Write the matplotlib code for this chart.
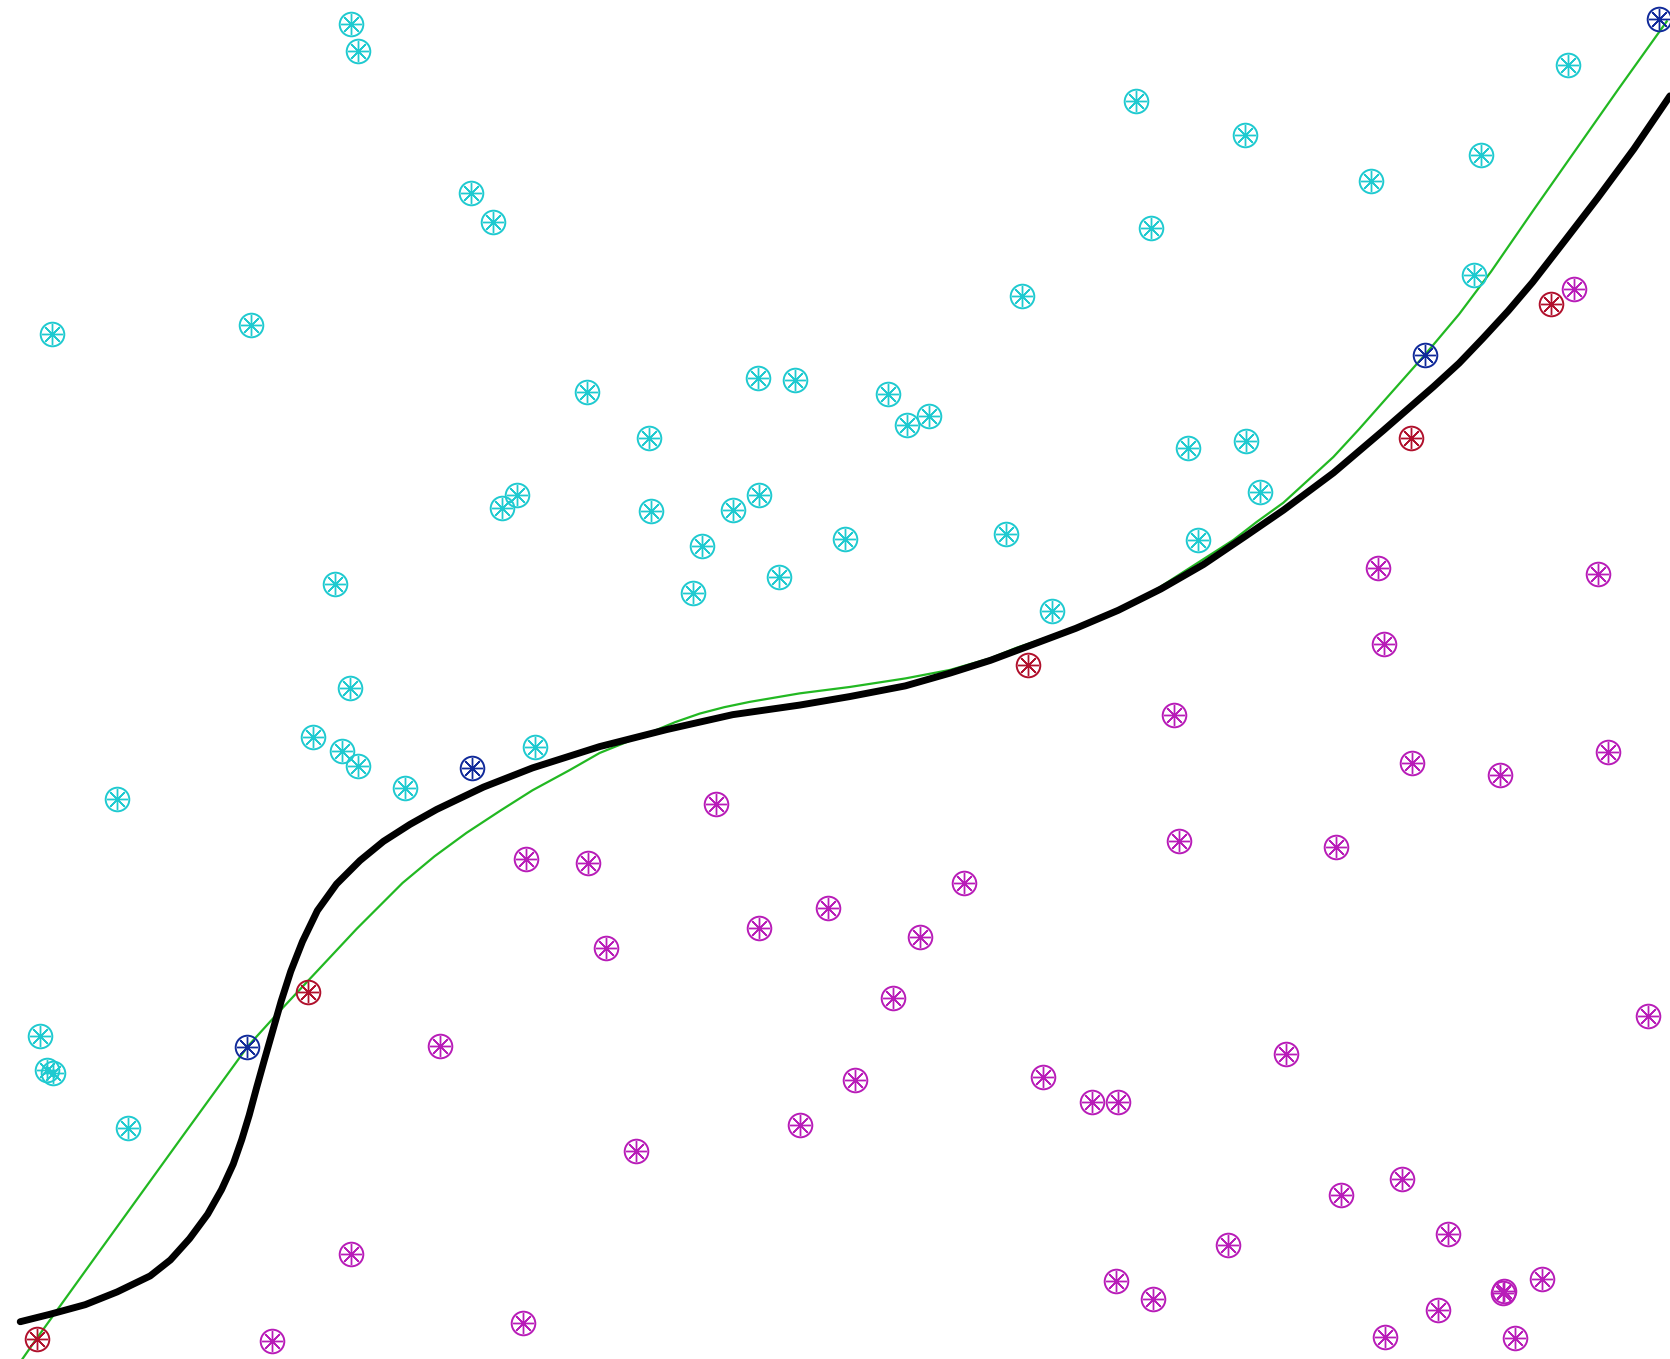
import numpy as np
import matplotlib
matplotlib.use("Agg")
import matplotlib.pyplot as plt

# scatter groups (chart units, y grows downward)
cyan_x = [330, 336, 442, 463, 49, 236, 1067, 1169, 1287, 1391, 1472, 1081, 960, 1384,
          551, 712, 746, 834, 852, 872, 609, 1115, 1170, 1183, 471, 485, 611, 688, 713,
          945, 1125, 793, 659, 731, 651, 315, 988, 329, 294, 321, 336, 380, 502, 110,
          38, 44, 50, 120]
cyan_y = [23, 48, 181, 208, 314, 305, 95, 127, 170, 146, 61, 214, 278, 258,
          368, 355, 357, 370, 399, 391, 411, 421, 414, 462, 477, 465, 480, 479, 465,
          501, 507, 506, 513, 542, 557, 548, 574, 646, 692, 705, 719, 740, 701, 750,
          973, 1005, 1007, 1059]

magenta_x = [1478, 1294, 1500, 1299, 1102, 1326, 1408, 1510, 672, 494, 552, 1107, 1254,
             905, 777, 713, 864, 569, 838, 1547, 413, 1207, 803, 979, 1025, 1050, 751,
             597, 1316, 1259, 1360, 1153, 330, 1048, 1083, 1448, 1412, 1411, 1350, 1300,
             1422, 491, 255]
magenta_y = [271, 533, 539, 605, 671, 716, 728, 706, 755, 807, 810, 790, 795,
             829, 853, 871, 880, 890, 937, 954, 982, 990, 1014, 1011, 1035, 1035, 1056,
             1081, 1107, 1122, 1159, 1169, 1177, 1203, 1220, 1201, 1212, 1214, 1230, 1255,
             1256, 1242, 1259]

red_x = [35, 289, 965, 1325, 1456]
red_y = [1257, 931, 624, 411, 285]

blue_x = [232, 443, 1338, 1558]
blue_y = [983, 721, 333, 18]

# fitted curves
black_x = [19, 47, 80, 110, 141, 160, 178, 195, 208, 219, 227, 234, 241, 248, 256, 264,
           273, 284, 298, 316, 338, 360, 385, 410, 454, 500, 563, 626, 688, 751, 798,
           850, 892, 930, 970, 1010, 1050, 1090, 1130, 1170, 1205, 1252, 1299, 1346,
           1370, 1392, 1416, 1439, 1470, 1500, 1534, 1568]
black_y = [1241, 1234, 1225, 1213, 1198, 1183, 1163, 1140, 1117, 1093, 1070, 1047, 1021,
           996, 968, 940, 912, 884, 855, 830, 808, 790, 774, 760, 739, 721, 701, 685, 671,
           662, 654, 644, 632, 620, 605, 590, 573, 553, 530, 503, 479, 444, 404, 363,
           341, 318, 292, 265, 225, 186, 140, 90]

green_x = [21, 35, 94, 172, 233, 262, 291, 335, 378, 408, 438, 470, 500, 535, 563, 610,
           634, 657, 680, 704, 751, 798, 850, 892, 930, 955, 1017, 1080, 1158, 1180,
           1205, 1228, 1252, 1276, 1299, 1338, 1370, 1400, 1440, 1480, 1520, 1565]
green_y = [1276, 1256, 1174, 1066, 982, 950, 919, 872, 829, 804, 782, 761, 742, 723, 707,
           688, 678, 670, 664, 659, 651, 645, 637, 629, 618, 608, 587, 557, 507, 490,
           472, 451, 429, 403, 377, 333, 295, 255, 197, 140, 83, 20]

fig = plt.figure(figsize=(16.7, 13.59), dpi=100)
ax = fig.add_axes([0, 0, 1, 1])

ax.plot(green_x, green_y, color="#22b822", lw=1.6, solid_joinstyle="round", zorder=2)
ax.plot(black_x, black_y, color="black", lw=5, solid_capstyle="round",
        solid_joinstyle="round", zorder=3)


def wheel(x, y, col):
    ax.plot(x, y, ls="none", marker="o", ms=17, mfc="none", mec=col, mew=1.4, zorder=4)
    ax.plot(x, y, ls="none", marker=(8, 2, 0), ms=15, mec=col, mew=1.0, zorder=4)


wheel(cyan_x, cyan_y, "#1fcad0")
wheel(magenta_x, magenta_y, "#b81cb8")
wheel(red_x, red_y, "#b0102c")
wheel(blue_x, blue_y, "#102a9a")

ax.set_xlim(0, 1568)
ax.set_ylim(1276, 0)
ax.axis("off")

fig.savefig("out.png", dpi=100, facecolor="white")
